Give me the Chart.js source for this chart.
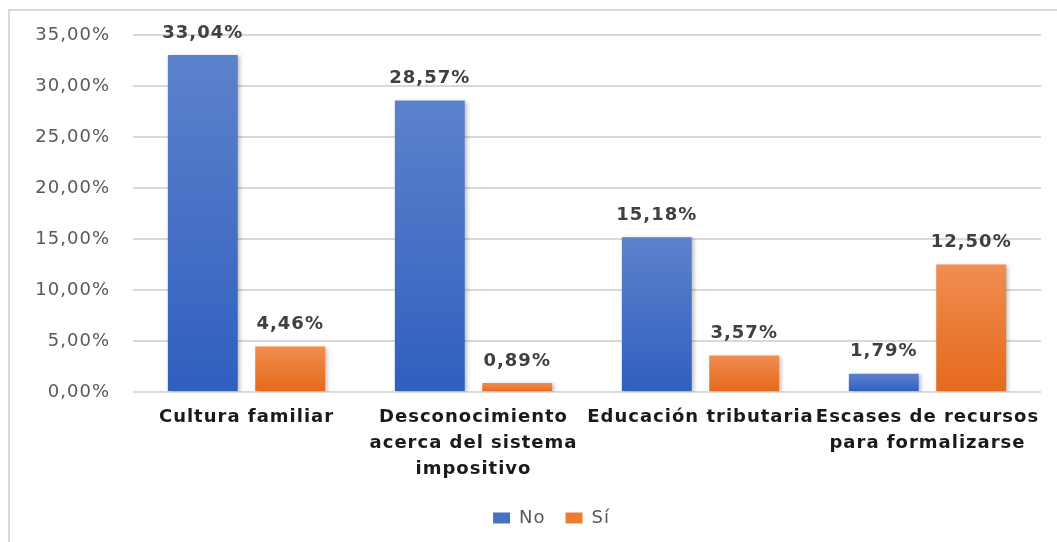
<!DOCTYPE html>
<html>
<head>
<meta charset="utf-8">
<script src="https://cdn.jsdelivr.net/npm/chart.js@4/dist/chart.umd.min.js"></script>
<style>
  html, body { margin: 0; padding: 0; background: #ffffff; }
  #frame {
    position: absolute; left: 8px; top: 9px;
    width: 1200px; height: 700px;
    border: 2px solid #d9d9d9;
  }
  #wrap { position: absolute; left: 0; top: 0; width: 1057px; height: 542px; }
</style>
</head>
<body>
<div id="frame"></div>
<div id="wrap"><canvas id="chart"></canvas></div>
<script>
// --- DATOS ---
const categories = [
  ['Cultura familiar'],
  ['Desconocimiento', 'acerca del sistema', 'impositivo'],
  ['Educación tributaria'],
  ['Escases de recursos', 'para formalizarse']
];
const seriesNames = ['No', 'Sí'];
const noValues = [33.04, 28.57, 15.18, 1.79];
const siValues = [4.46, 0.89, 3.57, 12.50];
const yTicks = [0, 5, 10, 15, 20, 25, 30, 35];

const FONT = '"DejaVu Sans", Verdana, sans-serif';

// formato 12,50%
const pct = (v) => v.toFixed(2).replace('.', ',') + '%';

// degradado vertical por barra (claro arriba, oscuro abajo)
const barGradient = (topColor, bottomColor, solid) => (context) => {
  const chart = context.chart;
  if (!chart.chartArea) return solid;
  const yScale = chart.scales.y;
  const yTop = yScale.getPixelForValue(context.raw);
  const yBottom = yScale.getPixelForValue(0);
  if (!isFinite(yTop) || yTop === yBottom) return solid;
  const g = chart.ctx.createLinearGradient(0, yTop, 0, yBottom);
  g.addColorStop(0, topColor);
  g.addColorStop(1, bottomColor);
  return g;
};

// texto un poco más ancho, como en el original
// (el resize del canvas borra el estado, por eso se pone en cada update/draw)
const wideText = {
  id: 'wideText',
  beforeUpdate(chart) { chart.ctx.letterSpacing = '1px'; },
  beforeLayout(chart) { chart.ctx.letterSpacing = '1px'; },
  beforeDraw(chart) { chart.ctx.letterSpacing = '1px'; }
};

// etiquetas de valor encima de cada barra
const valueLabels = {
  id: 'valueLabels',
  afterDatasetsDraw(chart) {
    const ctx = chart.ctx;
    ctx.save();
    ctx.font = 'bold 18px ' + FONT;
    ctx.fillStyle = '#404040';
    ctx.textAlign = 'center';
    ctx.textBaseline = 'bottom';
    chart.data.datasets.forEach((ds, i) => {
      chart.getDatasetMeta(i).data.forEach((bar, j) => {
        ctx.fillText(pct(ds.data[j]), bar.x, bar.y - 13);
      });
    });
    ctx.restore();
  }
};

// sombra suave de las barras
const barShadow = {
  id: 'barShadow',
  beforeDatasetsDraw(chart) {
    const ctx = chart.ctx;
    ctx.save();
    ctx.shadowColor = 'rgba(0,0,0,0.25)';
    ctx.shadowBlur = 4;
    ctx.shadowOffsetX = 2;
    ctx.shadowOffsetY = 1;
  },
  afterDatasetsDraw(chart) {
    chart.ctx.restore();
  }
};

// la leyenda del original está un poco a la derecha del centro
const legendShift = {
  id: 'legendShift',
  afterLayout(chart) {
    if (chart.legend) {
      chart.legend.left += 31;
      chart.legend.right += 31;
    }
  }
};

new Chart(document.querySelector('#chart'), {
  type: 'bar',
  data: {
    labels: categories,
    datasets: [
      {
        label: seriesNames[0],
        data: noValues,
        backgroundColor: barGradient('#5d82cc', '#2f5fbf', '#4472c4'),
        categoryPercentage: 0.77,
        barPercentage: 0.8
      },
      {
        label: seriesNames[1],
        data: siValues,
        backgroundColor: barGradient('#f08d50', '#e4691b', '#ed7d31'),
        categoryPercentage: 0.77,
        barPercentage: 0.8
      }
    ]
  },
  options: {
    responsive: true,
    maintainAspectRatio: false,
    animation: false,
    layout: { padding: { top: 35, right: 16, bottom: 5, left: 0 } },
    scales: {
      x: {
        afterFit: (scale) => { scale.height = 97; },
        grid: { display: false },
        border: { display: false },
        ticks: {
          color: '#1a1a1a',
          font: { family: FONT, size: 18, weight: 'bold', lineHeight: 1.42 },
          padding: 5,
          maxRotation: 0,
          autoSkip: false
        }
      },
      y: {
        min: 0,
        max: 35,
        afterFit: (scale) => { scale.width = 133; },
        afterBuildTicks: (scale) => { scale.ticks = yTicks.map(v => ({ value: v })); },
        grid: { color: '#d9d9d9', lineWidth: 2, drawTicks: false },
        border: { display: false },
        ticks: {
          color: '#595959',
          font: { family: FONT, size: 18 },
          padding: 23,
          callback: (v) => pct(v)
        }
      }
    },
    plugins: {
      legend: {
        position: 'bottom',
        labels: {
          color: '#595959',
          font: { family: FONT, size: 18 },
          boxWidth: 17,
          boxHeight: 11,
          padding: 20,
          generateLabels: (chart) => {
            const solid = ['#4472c4', '#ed7d31'];
            return Chart.defaults.plugins.legend.labels.generateLabels(chart).map((item, i) => {
              item.fillStyle = solid[i];
              item.strokeStyle = solid[i];
              item.lineWidth = 0;
              return item;
            });
          }
        }
      },
      tooltip: { enabled: false }
    }
  },
  plugins: [wideText, legendShift, barShadow, valueLabels]
});
</script>
</body>
</html>
